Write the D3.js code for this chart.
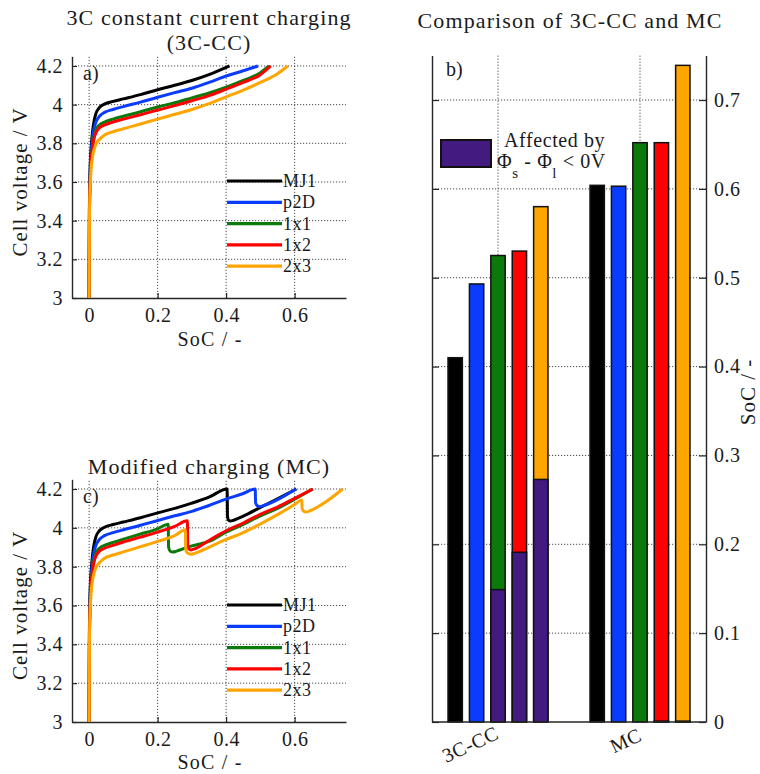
<!DOCTYPE html>
<html>
<head>
<meta charset="utf-8">
<script src="https://cdn.jsdelivr.net/npm/d3@7/dist/d3.min.js"></script>
<style>
  html, body { margin: 0; padding: 0; background: #fff; }
  svg { display: block; }
  text { font-family: "Liberation Serif", "Times New Roman", serif; fill: #1a1a1a; }
</style>
</head>
<body>
<svg id="chart" width="760" height="774"></svg>
<script>
// ---- data -------------------------------------------------------------
const models = ["MJ1", "p2D", "1x1", "1x2", "2x3"];
const modelColors = ["#000000", "#0a3cff", "#0b7a0b", "#ff0000", "#ffa500"];
const affectedColor = "#421a80";

const voltTicks = [3, 3.2, 3.4, 3.6, 3.8, 4, 4.2];
const voltTickLabels = ["3", "3.2", "3.4", "3.6", "3.8", "4", "4.2"];
const socTicks = [0, 0.2, 0.4, 0.6];
const socTickLabels = ["0", "0.2", "0.4", "0.6"];

// 3C constant-current charging: [SoC, cell voltage]
const ccMJ1 = [[0,3],[0.001,3.5],[0.003,3.68],[0.006,3.78],[0.01,3.86],[0.015,3.92],[0.02,3.955],[0.03,3.985],[0.045,4.003],[0.07,4.017],[0.1,4.03],[0.15,4.052],[0.2,4.077],[0.25,4.1],[0.3,4.125],[0.35,4.155],[0.41,4.2]];
const ccP2D = [[0,3],[0.001,3.48],[0.003,3.65],[0.006,3.75],[0.01,3.83],[0.015,3.88],[0.02,3.91],[0.03,3.94],[0.045,3.96],[0.07,3.975],[0.1,3.99],[0.15,4.013],[0.2,4.038],[0.25,4.062],[0.3,4.085],[0.35,4.115],[0.4,4.148],[0.45,4.175],[0.493,4.2]];
const cc1x1 = [[0,3],[0.001,3.46],[0.003,3.62],[0.006,3.72],[0.01,3.79],[0.015,3.84],[0.02,3.87],[0.03,3.895],[0.045,3.91],[0.07,3.925],[0.1,3.94],[0.15,3.963],[0.2,3.988],[0.25,4.01],[0.3,4.035],[0.35,4.06],[0.4,4.09],[0.45,4.125],[0.5,4.165],[0.525,4.2]];
const cc1x2 = [[0,3],[0.001,3.45],[0.003,3.61],[0.006,3.71],[0.01,3.78],[0.015,3.83],[0.02,3.855],[0.03,3.88],[0.045,3.895],[0.07,3.91],[0.1,3.925],[0.15,3.948],[0.2,3.972],[0.25,3.995],[0.3,4.02],[0.35,4.047],[0.4,4.08],[0.45,4.115],[0.5,4.155],[0.53,4.2]];
const cc2x3 = [[0,3],[0.001,3.42],[0.003,3.57],[0.006,3.67],[0.01,3.73],[0.015,3.77],[0.02,3.795],[0.03,3.82],[0.045,3.843],[0.07,3.86],[0.1,3.875],[0.15,3.9],[0.2,3.925],[0.25,3.95],[0.3,3.975],[0.35,4.005],[0.4,4.04],[0.45,4.075],[0.5,4.115],[0.55,4.16],[0.58,4.2]];

// Modified charging: [SoC, cell voltage]
const mcMJ1 = [[0,3],[0.001,3.5],[0.003,3.68],[0.006,3.78],[0.01,3.86],[0.015,3.92],[0.02,3.955],[0.03,3.985],[0.045,4.003],[0.07,4.017],[0.1,4.03],[0.15,4.052],[0.2,4.077],[0.25,4.1],[0.3,4.127],[0.35,4.158],[0.403,4.2],[0.404,4.06],[0.407,4.04],[0.413,4.035],[0.42,4.038],[0.45,4.06],[0.5,4.105],[0.55,4.15],[0.605,4.2]];
const mcP2D = [[0,3],[0.001,3.48],[0.003,3.65],[0.006,3.75],[0.01,3.83],[0.015,3.88],[0.02,3.91],[0.03,3.94],[0.045,3.96],[0.07,3.975],[0.1,3.99],[0.15,4.013],[0.2,4.038],[0.25,4.062],[0.3,4.085],[0.35,4.115],[0.4,4.148],[0.45,4.177],[0.485,4.2],[0.486,4.13],[0.49,4.115],[0.498,4.11],[0.51,4.115],[0.55,4.145],[0.604,4.2]];
const mc1x1 = [[0,3],[0.001,3.46],[0.003,3.62],[0.006,3.72],[0.01,3.79],[0.015,3.84],[0.02,3.87],[0.03,3.895],[0.045,3.91],[0.07,3.925],[0.1,3.942],[0.15,3.968],[0.2,3.995],[0.231,4.019],[0.232,3.9],[0.236,3.882],[0.245,3.875],[0.255,3.88],[0.3,3.907],[0.35,3.93],[0.4,3.978],[0.45,4.018],[0.5,4.062],[0.55,4.1],[0.6,4.147],[0.653,4.2]];
const mc1x2 = [[0,3],[0.001,3.45],[0.003,3.61],[0.006,3.71],[0.01,3.78],[0.015,3.83],[0.02,3.855],[0.03,3.88],[0.045,3.895],[0.07,3.91],[0.1,3.927],[0.15,3.952],[0.2,3.978],[0.25,4.008],[0.287,4.036],[0.288,3.91],[0.291,3.892],[0.297,3.886],[0.305,3.89],[0.35,3.935],[0.4,3.985],[0.45,4.025],[0.5,4.07],[0.55,4.107],[0.6,4.152],[0.653,4.2]];
const mc2x3 = [[0,3],[0.001,3.42],[0.003,3.57],[0.006,3.67],[0.01,3.73],[0.015,3.77],[0.02,3.795],[0.03,3.82],[0.045,3.843],[0.07,3.86],[0.1,3.876],[0.15,3.903],[0.2,3.93],[0.25,3.96],[0.281,3.99],[0.282,3.89],[0.286,3.872],[0.297,3.864],[0.31,3.87],[0.35,3.9],[0.4,3.94],[0.45,3.975],[0.5,4.02],[0.55,4.068],[0.6,4.12],[0.621,4.143],[0.622,4.1],[0.626,4.086],[0.634,4.081],[0.645,4.088],[0.7,4.145],[0.74,4.2]];

const ccCurves = [ccMJ1, ccP2D, cc1x1, cc1x2, cc2x3];
const mcCurves = [mcMJ1, mcP2D, mc1x1, mc1x2, mc2x3];

// Bar chart: SoC reached at end of charging, and portion with Φs - Φl < 0 V
const strategies = ["3C-CC", "MC"];
const ccEndSoC = [0.41, 0.493, 0.525, 0.53, 0.58];
const mcEndSoC = [0.604, 0.603, 0.652, 0.652, 0.739];
const ccAffectedSoC = [0, 0, 0.149, 0.191, 0.273];
const mcAffectedSoC = [0, 0, 0, 0.001, 0.001];
const barTicks = [0, 0.1, 0.2, 0.3, 0.4, 0.5, 0.6, 0.7];
const barTickLabels = ["0", "0.1", "0.2", "0.3", "0.4", "0.5", "0.6", "0.7"];

// ---- drawing ----------------------------------------------------------
const svg = d3.select("#chart");
const axisColor = "#262626";
const gridColor = "#4a4a4a";

function styleAxis(g, fontSize) {
  g.select(".domain").attr("stroke", axisColor).attr("stroke-width", 1.4);
  g.selectAll(".tick line").attr("stroke", axisColor).attr("stroke-width", 1.2);
  g.selectAll(".tick text")
    .attr("fill", "#1a1a1a")
    .style("font-family", '"Liberation Serif", serif')
    .style("font-size", fontSize + "px")
    .style("letter-spacing", "0.5px");
}

function voltagePanel(opts) {
  const { top, bottom, curves, title, titleY, tag, tagY, legendTop, xLabelY } = opts;
  const x = d3.scaleLinear().domain([-0.05, 0.75]).range([72, 346]);
  const y = d3.scaleLinear().domain([3, 4.25]).range([bottom, top]);
  const g = svg.append("g");

  // dotted grid
  g.append("g").selectAll("line").data(voltTicks.slice(1)).join("line")
    .attr("x1", x.range()[0]).attr("x2", x.range()[1])
    .attr("y1", d => y(d)).attr("y2", d => y(d))
    .attr("stroke", gridColor).attr("stroke-width", 1).attr("stroke-dasharray", "1.2,1.8");
  g.append("g").selectAll("line").data(socTicks).join("line")
    .attr("x1", d => x(d)).attr("x2", d => x(d))
    .attr("y1", y.range()[0]).attr("y2", y.range()[1])
    .attr("stroke", gridColor).attr("stroke-width", 1).attr("stroke-dasharray", "1.2,1.8");

  // axes
  const ya = g.append("g").attr("transform", "translate(72,0)")
    .call(d3.axisLeft(y).tickValues(voltTicks).tickFormat((d, i) => voltTickLabels[i])
      .tickSize(-5).tickSizeOuter(0).tickPadding(9));
  styleAxis(ya, 20);
  const xa = g.append("g").attr("transform", `translate(0,${bottom})`)
    .call(d3.axisBottom(x).tickValues(socTicks).tickFormat((d, i) => socTickLabels[i])
      .tickSize(-5).tickSizeOuter(0).tickPadding(10));
  styleAxis(xa, 20);

  // curves
  const line = d3.line().x(d => x(d[0])).y(d => y(d[1])).curve(d3.curveMonotoneX);
  g.append("g").selectAll("path").data(curves).join("path")
    .attr("d", line).attr("fill", "none")
    .attr("stroke", (d, i) => modelColors[i]).attr("stroke-width", 3)
    .attr("stroke-linejoin", "round");

  // legend
  const lg = g.append("g");
  models.forEach((m, i) => {
    const ly = legendTop + i * 21.3;
    lg.append("line").attr("x1", 227).attr("x2", 282).attr("y1", ly).attr("y2", ly)
      .attr("stroke", modelColors[i]).attr("stroke-width", 3.2);
    lg.append("text").attr("x", 283).attr("y", ly + 6).text(m)
      .style("font-size", "18px").style("letter-spacing", "0.5px").attr("fill", "#333");
  });

  // labels
  g.append("text").attr("x", 83).attr("y", tagY).text(tag).style("font-size", "20px");
  g.append("text").attr("transform", `translate(27,${(y(4.2) + y(3)) / 2}) rotate(-90)`)
    .attr("text-anchor", "middle").text("Cell voltage / V")
    .style("font-size", "21px").style("letter-spacing", "1px");
  g.append("text").attr("x", 210).attr("y", xLabelY).attr("text-anchor", "middle")
    .text("SoC / -").style("font-size", "20px").style("letter-spacing", "1.2px");
  title.forEach((t, i) => {
    g.append("text").attr("x", 209).attr("y", titleY + i * 25).attr("text-anchor", "middle")
      .text(t).style("font-size", "22px").style("letter-spacing", "1.1px");
  });
}

voltagePanel({ top: 56.3, bottom: 298, curves: ccCurves,
  title: ["3C constant current charging", "(3C-CC)"], titleY: 25,
  tag: "a)", tagY: 80, legendTop: 181, xLabelY: 346 });
voltagePanel({ top: 479.3, bottom: 722, curves: mcCurves,
  title: ["Modified charging (MC)"], titleY: 474,
  tag: "c)", tagY: 503, legendTop: 605, xLabelY: 769 });

// ---- bar chart --------------------------------------------------------
(function barPanel() {
  const left = 432, right = 706, top = 55.6, bottom = 722;
  const y = d3.scaleLinear().domain([0, 0.75]).range([bottom, top]);
  const gx = d3.scalePoint().domain(strategies).range([498, 640]);
  const bx = d3.scaleBand().domain(models).range([-53.5, 53.5]).paddingInner(0.33).paddingOuter(0.165);
  const g = svg.append("g");

  g.append("g").selectAll("line").data(barTicks.slice(1)).join("line")
    .attr("x1", left).attr("x2", right).attr("y1", d => y(d)).attr("y2", d => y(d))
    .attr("stroke", gridColor).attr("stroke-width", 1).attr("stroke-dasharray", "1.2,1.8");
  g.append("g").selectAll("line").data(strategies).join("line")
    .attr("x1", d => gx(d)).attr("x2", d => gx(d)).attr("y1", top).attr("y2", bottom)
    .attr("stroke", gridColor).attr("stroke-width", 1).attr("stroke-dasharray", "1.2,1.8");

  const rows = [];
  strategies.forEach((s, si) => {
    const ends = si === 0 ? ccEndSoC : mcEndSoC;
    const aff = si === 0 ? ccAffectedSoC : mcAffectedSoC;
    models.forEach((m, mi) => rows.push({ s, m, mi, end: ends[mi], aff: aff[mi] }));
  });

  const bars = g.append("g").selectAll("g").data(rows).join("g");
  bars.append("rect")
    .attr("x", d => gx(d.s) + bx(d.m)).attr("width", bx.bandwidth())
    .attr("y", d => y(d.end)).attr("height", d => y(0) - y(d.end))
    .attr("fill", d => modelColors[d.mi]).attr("stroke", "#111").attr("stroke-width", 1.5);
  bars.filter(d => d.aff > 0).append("rect")
    .attr("x", d => gx(d.s) + bx(d.m)).attr("width", bx.bandwidth())
    .attr("y", d => y(d.aff)).attr("height", d => y(0) - y(d.aff))
    .attr("fill", affectedColor).attr("stroke", "#111").attr("stroke-width", 1.5);

  // axes
  const ra = g.append("g").attr("transform", `translate(${right},0)`)
    .call(d3.axisRight(y).tickValues(barTicks).tickFormat((d, i) => barTickLabels[i])
      .tickSize(-7).tickSizeOuter(0).tickPadding(8));
  styleAxis(ra, 20);
  const la = g.append("g").attr("transform", `translate(${left},0)`)
    .call(d3.axisLeft(y).tickValues(barTicks).tickFormat("").tickSize(-7).tickSizeOuter(0));
  styleAxis(la, 20);
  const ba = g.append("g").attr("transform", `translate(0,${bottom})`)
    .call(d3.axisBottom(gx).tickSize(0).tickFormat(""));
  ba.select(".domain").attr("d", `M${left},0H${right}`);
  styleAxis(ba, 20);

  // rotated category labels
  const catAnchor = [[500, 738], [643, 740]];
  g.append("g").selectAll("text").data(strategies).join("text")
    .attr("transform", (d, i) => `translate(${catAnchor[i][0]},${catAnchor[i][1]}) rotate(-25)`)
    .attr("text-anchor", "end").text(d => d)
    .style("font-size", "20px").style("letter-spacing", "0.5px");

  // titles and labels
  g.append("text").attr("x", 570).attr("y", 28).attr("text-anchor", "middle")
    .text("Comparison of 3C-CC and MC").style("font-size", "22px").style("letter-spacing", "1.1px");
  g.append("text").attr("x", 446).attr("y", 76).text("b)").style("font-size", "20px");
  g.append("text").attr("transform", "translate(755,392) rotate(-90)").attr("text-anchor", "middle")
    .text("SoC / -").style("font-size", "21px").style("letter-spacing", "1px");

  // legend
  g.append("rect").attr("x", 441).attr("y", 140).attr("width", 50).attr("height", 27)
    .attr("fill", affectedColor).attr("stroke", "#111").attr("stroke-width", 2);
  g.append("text").attr("x", 504).attr("y", 147).text("Affected by")
    .style("font-size", "20px").style("letter-spacing", "0.6px");
  const phi = g.append("text").attr("x", 497).attr("y", 168)
    .style("font-size", "20px").style("letter-spacing", "0.6px");
  phi.append("tspan").text("Φ");
  phi.append("tspan").attr("dy", 10).style("font-size", "15px").text("s");
  phi.append("tspan").attr("dy", -10).text(" - Φ");
  phi.append("tspan").attr("dy", 10).style("font-size", "15px").text("l");
  phi.append("tspan").attr("dy", -10).text(" < 0V");
})();
</script>
</body>
</html>
